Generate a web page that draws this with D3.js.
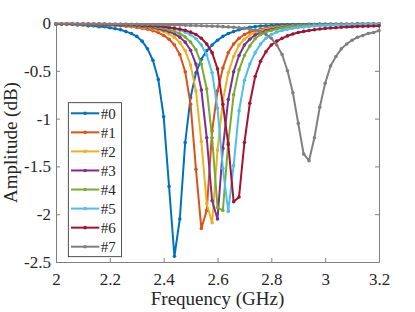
<!DOCTYPE html>
<html>
<head>
<meta charset="utf-8">
<script src="https://cdn.jsdelivr.net/npm/d3@7"></script>
<style>
  body { margin: 0; background: #fff; }
  text { font-family: 'Liberation Serif', 'Times New Roman', serif; }
</style>
</head>
<body>
<div id="chart"></div>
<script>
// sample frequencies (GHz)
const freqs = [
  2.00, 2.02, 2.04, 2.06, 2.08, 2.10, 2.12, 2.14, 2.16, 2.18,
  2.20, 2.22, 2.24, 2.26, 2.28, 2.30, 2.32, 2.34, 2.36, 2.38,
  2.40, 2.42, 2.44, 2.46, 2.48, 2.50, 2.52, 2.54, 2.56, 2.58,
  2.60, 2.62, 2.64, 2.66, 2.68, 2.70, 2.72, 2.74, 2.76, 2.78,
  2.80, 2.82, 2.84, 2.86, 2.88, 2.90, 2.92, 2.94, 2.96, 2.98,
  3.00, 3.02, 3.04, 3.06, 3.08, 3.10, 3.12, 3.14, 3.16, 3.18,
  3.20
]

const names = ['#0', '#1', '#2', '#3', '#4', '#5', '#6', '#7']
const colors = ['#0072BD', '#D95319', '#EDB120', '#7E2F8E', '#77AC30', '#4DBEEE', '#A2142F', '#808080']

// amplitude (dB) for each case
const amp0 = [
  -0.01, -0.01, -0.01, -0.01, -0.02, -0.02, -0.03, -0.03, -0.04, -0.04,
  -0.05, -0.06, -0.07, -0.09, -0.11, -0.14, -0.19, -0.27, -0.39, -0.59,
  -0.98, -1.71, -2.44, -2.05, -1.25, -0.78, -0.52, -0.38, -0.29, -0.23,
  -0.18, -0.14, -0.11, -0.09, -0.07, -0.055, -0.045, -0.038, -0.032, -0.028,
  -0.025, -0.022, -0.02, -0.018, -0.017, -0.016, -0.015, -0.014, -0.013, -0.012,
  -0.012, -0.011, -0.011, -0.01, -0.01, -0.01, -0.009, -0.009, -0.009, -0.008,
  -0.008
]
const amp1 = [
  -0.01, -0.01, -0.011, -0.012, -0.013, -0.014, -0.015, -0.017, -0.019, -0.021,
  -0.024, -0.027, -0.03, -0.035, -0.04, -0.047, -0.055, -0.066, -0.08, -0.1,
  -0.13, -0.17, -0.23, -0.33, -0.51, -0.85, -1.53, -2.15, -1.96, -1.13,
  -0.71, -0.47, -0.31, -0.22, -0.16, -0.12, -0.095, -0.078, -0.064, -0.054,
  -0.046, -0.04, -0.035, -0.031, -0.028, -0.025, -0.023, -0.021, -0.019, -0.018,
  -0.017, -0.016, -0.015, -0.014, -0.013, -0.013, -0.012, -0.012, -0.011, -0.011,
  -0.01
]
const amp2 = [
  -0.01, -0.01, -0.011, -0.012, -0.013, -0.014, -0.015, -0.016, -0.017, -0.019,
  -0.021, -0.023, -0.026, -0.029, -0.033, -0.037, -0.044, -0.051, -0.061, -0.074,
  -0.09, -0.115, -0.15, -0.205, -0.29, -0.44, -0.71, -1.24, -1.89, -2.09,
  -1.33, -0.81, -0.52, -0.35, -0.23, -0.17, -0.125, -0.1, -0.08, -0.066,
  -0.055, -0.047, -0.041, -0.036, -0.032, -0.029, -0.026, -0.024, -0.022, -0.02,
  -0.019, -0.018, -0.017, -0.016, -0.015, -0.014, -0.013, -0.013, -0.012, -0.012,
  -0.011
]
const amp3 = [
  -0.01, -0.01, -0.011, -0.011, -0.012, -0.013, -0.014, -0.015, -0.016, -0.017,
  -0.019, -0.021, -0.023, -0.025, -0.028, -0.032, -0.036, -0.043, -0.05, -0.06,
  -0.073, -0.09, -0.113, -0.148, -0.2, -0.285, -0.43, -0.7, -1.2, -1.86,
  -2.05, -1.31, -0.8, -0.51, -0.34, -0.23, -0.17, -0.125, -0.1, -0.08,
  -0.066, -0.055, -0.047, -0.041, -0.036, -0.032, -0.029, -0.026, -0.024, -0.022,
  -0.02, -0.019, -0.018, -0.017, -0.016, -0.015, -0.014, -0.013, -0.013, -0.012,
  -0.012
]
const amp4 = [
  -0.01, -0.01, -0.01, -0.011, -0.011, -0.012, -0.013, -0.014, -0.015, -0.016,
  -0.017, -0.018, -0.02, -0.022, -0.025, -0.028, -0.031, -0.036, -0.042, -0.049,
  -0.058, -0.071, -0.088, -0.112, -0.146, -0.2, -0.28, -0.43, -0.69, -1.2,
  -1.93, -1.96, -1.25, -0.75, -0.49, -0.34, -0.24, -0.165, -0.12, -0.095,
  -0.077, -0.063, -0.053, -0.045, -0.039, -0.034, -0.031, -0.028, -0.025, -0.023,
  -0.021, -0.02, -0.019, -0.018, -0.017, -0.016, -0.015, -0.014, -0.014, -0.013,
  -0.012
]
const amp5 = [
  -0.01, -0.01, -0.01, -0.011, -0.011, -0.012, -0.012, -0.013, -0.014, -0.015,
  -0.016, -0.017, -0.018, -0.019, -0.021, -0.023, -0.026, -0.029, -0.033, -0.038,
  -0.044, -0.051, -0.061, -0.075, -0.095, -0.123, -0.165, -0.23, -0.335, -0.52,
  -0.89, -1.52, -1.97, -1.49, -0.92, -0.6, -0.43, -0.31, -0.22, -0.16,
  -0.12, -0.095, -0.078, -0.065, -0.055, -0.047, -0.041, -0.036, -0.032, -0.029,
  -0.026, -0.024, -0.022, -0.021, -0.02, -0.019, -0.018, -0.017, -0.016, -0.015,
  -0.015
]
const amp6 = [
  -0.01, -0.01, -0.01, -0.011, -0.011, -0.012, -0.012, -0.013, -0.014, -0.015,
  -0.016, -0.017, -0.018, -0.019, -0.021, -0.023, -0.025, -0.028, -0.031, -0.035,
  -0.04, -0.046, -0.054, -0.064, -0.077, -0.095, -0.12, -0.16, -0.22, -0.31,
  -0.48, -0.85, -1.27, -1.87, -1.82, -1.25, -0.84, -0.56, -0.4, -0.3,
  -0.23, -0.19, -0.16, -0.135, -0.115, -0.1, -0.088, -0.078, -0.07, -0.063,
  -0.058, -0.053, -0.049, -0.045, -0.042, -0.04, -0.037, -0.035, -0.033, -0.032,
  -0.03
]
const amp7 = [
  -0.005, -0.005, -0.006, -0.006, -0.007, -0.007, -0.008, -0.008, -0.009, -0.009,
  -0.01, -0.011, -0.011, -0.012, -0.013, -0.014, -0.015, -0.016, -0.017, -0.018,
  -0.019, -0.02, -0.021, -0.022, -0.024, -0.025, -0.027, -0.029, -0.031, -0.033,
  -0.035, -0.038, -0.041, -0.045, -0.05, -0.056, -0.064, -0.075, -0.09, -0.12,
  -0.16, -0.23, -0.33, -0.5, -0.73, -1.05, -1.37, -1.44, -1.2, -0.88,
  -0.63, -0.45, -0.35, -0.27, -0.22, -0.18, -0.15, -0.13, -0.11, -0.1,
  -0.08
]
const amps = [amp0, amp1, amp2, amp3, amp4, amp5, amp6, amp7]

const xTicks = [2, 2.2, 2.4, 2.6, 2.8, 3, 3.2]
const yTicks = [0, -0.5, -1, -1.5, -2, -2.5]

const margin = { top: 23, left: 56, right: 36, bottom: 50 }
const width = 415 - margin.left - margin.right
const height = 312 - margin.top - margin.bottom

const svg = d3
  .select('#chart')
  .append('svg')
  .attr('width', 415)
  .attr('height', 312)
  .append('g')
  .attr('transform', 'translate(' + margin.left + ',' + margin.top + ')')

const xScale = d3.scaleLinear().domain([2, 3.2]).range([0, width])
const yScale = d3.scaleLinear().domain([-2.5, 0]).range([height, 0])

const axisColor = '#808080'
const textColor = '#262626'

// axes, ticks pointing inward on all four sides
const xAxis = d3.axisBottom(xScale).tickValues(xTicks).tickSizeInner(-4).tickSizeOuter(0).tickFormat(d => String(d))
const yAxis = d3.axisLeft(yScale).tickValues(yTicks).tickSizeInner(-4).tickSizeOuter(0).tickFormat(d => String(d))

const gx = svg.append('g').attr('transform', `translate(0,${height})`).call(xAxis)
gx.selectAll('text').attr('y', 11).attr('font-size', 17)

const gy = svg.append('g').call(yAxis)
gy.selectAll('text').attr('x', -5).attr('font-size', 17)

svg.append('g')
  .call(d3.axisTop(xScale).tickValues(xTicks).tickSizeInner(-4).tickSizeOuter(0).tickFormat(''))
svg.append('g')
  .attr('transform', `translate(${width},0)`)
  .call(d3.axisRight(yScale).tickValues(yTicks).tickSizeInner(-4).tickSizeOuter(0).tickFormat(''))

svg.selectAll('.domain').attr('stroke', axisColor)
svg.selectAll('.tick line').attr('stroke', axisColor)
svg.selectAll('.tick text').attr('fill', textColor).attr('font-family', "'Liberation Serif', 'Times New Roman', serif")

// curves
const line = d3.line()
  .x((d, i) => xScale(freqs[i]))
  .y(d => yScale(d))

amps.forEach(function(series, k) {
  const g = svg.append('g')
  g.append('path')
    .datum(series)
    .attr('d', line)
    .attr('fill', 'none')
    .attr('stroke', colors[k])
    .attr('stroke-width', 2)
    .attr('stroke-linejoin', 'round')
  g.selectAll('circle')
    .data(series)
    .enter()
    .append('circle')
    .attr('cx', (d, i) => xScale(freqs[i]))
    .attr('cy', d => yScale(d))
    .attr('r', 1.8)
    .attr('fill', colors[k])
})

// axis labels
svg.append('text')
  .text('Frequency (GHz)')
  .attr('x', width / 2)
  .attr('y', height + 43)
  .attr('text-anchor', 'middle')
  .attr('font-size', 19)
  .attr('fill', textColor)

svg.append('text')
  .text('Amplitude (dB)')
  .attr('transform', 'rotate(-90)')
  .attr('x', -height / 2)
  .attr('y', -39.5)
  .attr('text-anchor', 'middle')
  .attr('font-size', 19)
  .attr('fill', textColor)

// legend
const legend = svg.append('g').attr('transform', 'translate(12.3,79.7)')
legend.append('rect')
  .attr('width', 53.2)
  .attr('height', 154)
  .attr('fill', '#fff')
  .attr('stroke', '#262626')
  .attr('stroke-width', 0.8)

const bandScale = d3.scalePoint().domain(names).range([10.6, 144])

names.forEach(function(name, k) {
  const y = bandScale(name)
  legend.append('line')
    .attr('x1', 2.7)
    .attr('x2', 31)
    .attr('y1', y)
    .attr('y2', y)
    .attr('stroke', colors[k])
    .attr('stroke-width', 2)
  legend.append('circle')
    .attr('cx', 16.8)
    .attr('cy', y)
    .attr('r', 1.8)
    .attr('fill', colors[k])
  legend.append('text')
    .text(name)
    .attr('x', 32.4)
    .attr('y', y)
    .attr('dy', '0.35em')
    .attr('font-size', 15)
    .attr('fill', textColor)
})
</script>
</body>
</html>
